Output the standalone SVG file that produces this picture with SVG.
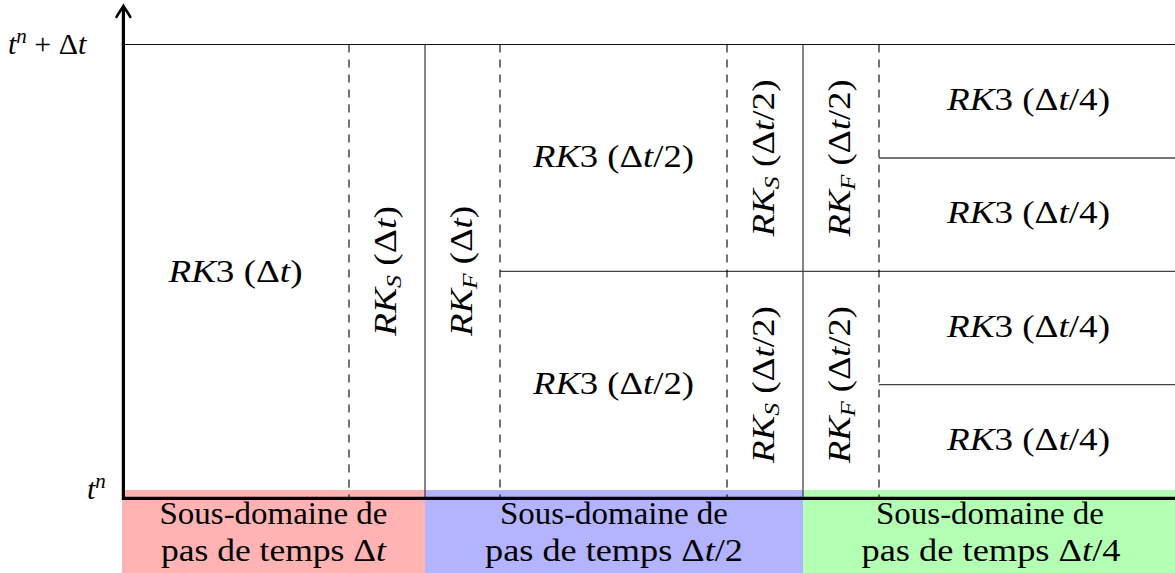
<svg xmlns="http://www.w3.org/2000/svg" width="1175" height="573" viewBox="0 0 1175 573">
<style>
.ln{fill:none}
.solid{stroke:#444;stroke-width:1.3}
.dash{stroke:#000;stroke-width:1.1;stroke-dasharray:8 7}
.axis{stroke:#000;stroke-width:3.2}
</style>
<rect width="1175" height="573" fill="#fff"/>
<g id="bands">
<rect id="band-red" x="122" y="490" width="303" height="83" fill="#ffb3b3"/>
<rect id="band-blue" x="425" y="490" width="378" height="83" fill="#b3b3ff"/>
<rect id="band-green" x="803" y="490" width="372" height="83" fill="#b3ffb3"/>
</g>
<g id="connectors" class="ln">
<line x1="123" y1="44.5" x2="1175" y2="44.5" stroke="#111" stroke-width="1"/>
<line class="solid" x1="425" y1="44.5" x2="425" y2="498"/>
<line class="solid" x1="803" y1="44.5" x2="803" y2="498"/>
<line class="solid" x1="500" y1="271.3" x2="1175" y2="271.3"/>
<line class="solid" x1="879" y1="158" x2="1175" y2="158"/>
<line class="solid" x1="879" y1="384.6" x2="1175" y2="384.6"/>
<line class="dash" x1="349" y1="44.5" x2="349" y2="498"/>
<line class="dash" x1="500" y1="44.5" x2="500" y2="498"/>
<line class="dash" x1="727" y1="44.5" x2="727" y2="498"/>
<line class="dash" x1="879" y1="44.5" x2="879" y2="498"/>
<line class="axis" x1="122" y1="498.3" x2="1175" y2="498.3"/>
<line class="axis" x1="123.4" y1="499.9" x2="123.4" y2="7"/>
<path d="M116.5,17 C118.5,13 121.5,9 123.4,6 C125.3,9 128.3,13 130.3,17" fill="none" stroke="#000" stroke-width="2.6" stroke-linecap="round"/>
</g>
<g id="axis-labels">
<text font-family="serif" font-size="30" x="8" y="54"><tspan font-style="italic">t</tspan><tspan font-style="italic" font-size="21" dy="-11">n</tspan><tspan dy="11"> + Δ</tspan><tspan font-style="italic">t</tspan></text>
<text font-family="serif" font-size="30" x="87" y="499"><tspan font-style="italic">t</tspan><tspan font-style="italic" font-size="21" dy="-11">n</tspan></text>
</g>
<g id="rk3-dt"><text font-family="serif" font-size="32" x="168.5" y="282" textLength="134" lengthAdjust="spacingAndGlyphs"><tspan font-style="italic">RK</tspan>3 (Δ<tspan font-style="italic">t</tspan>)</text></g>
<g id="rks-dt"><text font-family="serif" font-size="32" transform="translate(387,271) rotate(-90)" x="-65" y="9" textLength="130" lengthAdjust="spacingAndGlyphs"><tspan font-style="italic">RK</tspan><tspan font-style="italic" font-size="22" dy="5">S</tspan><tspan dy="-5"> (Δ</tspan><tspan font-style="italic">t</tspan>)</text></g>
<g id="rkf-dt"><text font-family="serif" font-size="32" transform="translate(462.5,271) rotate(-90)" x="-65" y="9" textLength="130" lengthAdjust="spacingAndGlyphs"><tspan font-style="italic">RK</tspan><tspan font-style="italic" font-size="22" dy="5">F</tspan><tspan dy="-5"> (Δ</tspan><tspan font-style="italic">t</tspan>)</text></g>
<g id="rk3-dt2-top"><text font-family="serif" font-size="32" x="533" y="167" textLength="161" lengthAdjust="spacingAndGlyphs"><tspan font-style="italic">RK</tspan>3 (Δ<tspan font-style="italic">t</tspan>/2)</text></g>
<g id="rk3-dt2-bot"><text font-family="serif" font-size="32" x="533" y="393.5" textLength="161" lengthAdjust="spacingAndGlyphs"><tspan font-style="italic">RK</tspan>3 (Δ<tspan font-style="italic">t</tspan>/2)</text></g>
<g id="rks-dt2-top"><text font-family="serif" font-size="32" transform="translate(765,158) rotate(-90)" x="-78.5" y="9" textLength="157" lengthAdjust="spacingAndGlyphs"><tspan font-style="italic">RK</tspan><tspan font-style="italic" font-size="22" dy="5">S</tspan><tspan dy="-5"> (Δ</tspan><tspan font-style="italic">t</tspan>/2)</text></g>
<g id="rkf-dt2-top"><text font-family="serif" font-size="32" transform="translate(841,158) rotate(-90)" x="-78.5" y="9" textLength="157" lengthAdjust="spacingAndGlyphs"><tspan font-style="italic">RK</tspan><tspan font-style="italic" font-size="22" dy="5">F</tspan><tspan dy="-5"> (Δ</tspan><tspan font-style="italic">t</tspan>/2)</text></g>
<g id="rks-dt2-bot"><text font-family="serif" font-size="32" transform="translate(765,384.6) rotate(-90)" x="-78.5" y="9" textLength="157" lengthAdjust="spacingAndGlyphs"><tspan font-style="italic">RK</tspan><tspan font-style="italic" font-size="22" dy="5">S</tspan><tspan dy="-5"> (Δ</tspan><tspan font-style="italic">t</tspan>/2)</text></g>
<g id="rkf-dt2-bot"><text font-family="serif" font-size="32" transform="translate(841,384.6) rotate(-90)" x="-78.5" y="9" textLength="157" lengthAdjust="spacingAndGlyphs"><tspan font-style="italic">RK</tspan><tspan font-style="italic" font-size="22" dy="5">F</tspan><tspan dy="-5"> (Δ</tspan><tspan font-style="italic">t</tspan>/2)</text></g>
<g id="rk3-dt4-1"><text font-family="serif" font-size="32" x="947" y="110" textLength="163" lengthAdjust="spacingAndGlyphs"><tspan font-style="italic">RK</tspan>3 (Δ<tspan font-style="italic">t</tspan>/4)</text></g>
<g id="rk3-dt4-2"><text font-family="serif" font-size="32" x="947" y="223" textLength="163" lengthAdjust="spacingAndGlyphs"><tspan font-style="italic">RK</tspan>3 (Δ<tspan font-style="italic">t</tspan>/4)</text></g>
<g id="rk3-dt4-3"><text font-family="serif" font-size="32" x="947" y="336.5" textLength="163" lengthAdjust="spacingAndGlyphs"><tspan font-style="italic">RK</tspan>3 (Δ<tspan font-style="italic">t</tspan>/4)</text></g>
<g id="rk3-dt4-4"><text font-family="serif" font-size="32" x="947" y="449.5" textLength="163" lengthAdjust="spacingAndGlyphs"><tspan font-style="italic">RK</tspan>3 (Δ<tspan font-style="italic">t</tspan>/4)</text></g>
<g id="label-red">
<text font-family="serif" font-size="31" x="159.5" y="524" textLength="228" lengthAdjust="spacingAndGlyphs">Sous-domaine de</text>
<text font-family="serif" font-size="31" x="161" y="561" textLength="225" lengthAdjust="spacingAndGlyphs">pas de temps Δ<tspan font-style="italic">t</tspan></text>
</g>
<g id="label-blue">
<text font-family="serif" font-size="31" x="500" y="524" textLength="228" lengthAdjust="spacingAndGlyphs">Sous-domaine de</text>
<text font-family="serif" font-size="31" x="485" y="561" textLength="258" lengthAdjust="spacingAndGlyphs">pas de temps Δ<tspan font-style="italic">t</tspan>/2</text>
</g>
<g id="label-green">
<text font-family="serif" font-size="31" x="876" y="524" textLength="228" lengthAdjust="spacingAndGlyphs">Sous-domaine de</text>
<text font-family="serif" font-size="31" x="861.5" y="561" textLength="259" lengthAdjust="spacingAndGlyphs">pas de temps Δ<tspan font-style="italic">t</tspan>/4</text>
</g>
</svg>
